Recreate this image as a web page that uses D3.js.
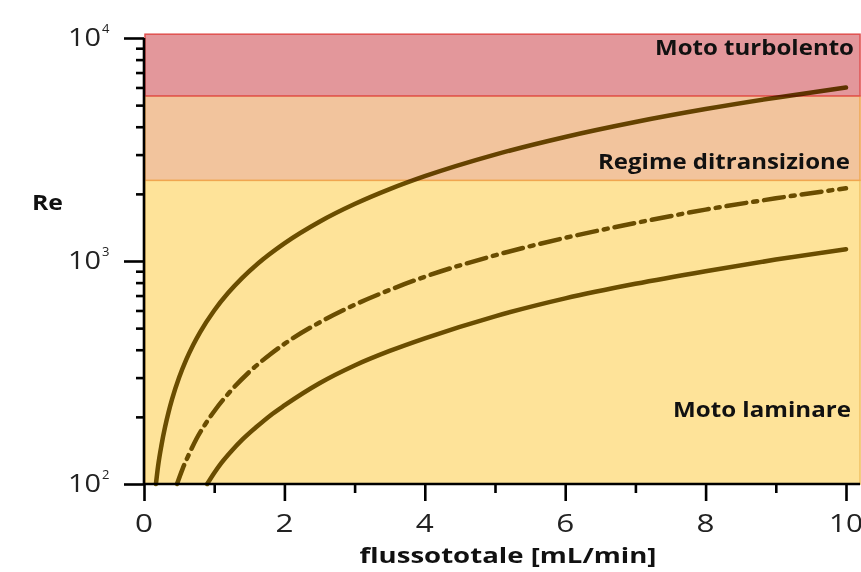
<!DOCTYPE html>
<html>
<head>
<meta charset="utf-8">
<script src="https://cdn.jsdelivr.net/npm/d3@7"></script>
<style>
  html, body { margin: 0; padding: 0; background: #fff; }
  svg { display: block; }
</style>
</head>
<body>
<svg id="chart" width="861" height="572"></svg>
<script>
// ---- data ----
const xTicksMajor = [0, 2, 4, 6, 8, 10];
const xTicksMinor = [1, 3, 5, 7, 9];
const yTicksMajor = [100, 1000, 10000];
const yTickExponents = ["2", "3", "4"];
const yTicksMinor = [200, 300, 400, 500, 600, 700, 800, 900, 2000, 3000, 4000, 5000, 6000, 7000, 8000, 9000];

const bandNames = ["Moto laminare", "Regime ditransizione", "Moto turbolento"];
const bandLow = [100, 2300, 5500];
const bandHigh = [2300, 5500, 10400];

// curve 1 (solid, upper)
const flowA = [0.17, 0.2, 0.25, 0.3, 0.35, 0.4, 0.5, 0.6, 0.7, 0.8, 1, 1.2, 1.4, 1.7, 2, 2.5, 3, 3.5, 4, 5, 6, 7, 8, 9, 10];
const reA = [100, 120, 150, 180, 210, 240, 300, 360, 420, 480, 600, 720, 840, 1020, 1200, 1500, 1800, 2100, 2400, 3000, 3600, 4200, 4800, 5400, 6000];
// curve 2 (dash-dot, middle)
const flowB = [0.47, 0.55, 0.65, 0.75, 0.9, 1, 1.2, 1.5, 1.8, 2, 2.5, 3, 3.5, 4, 5, 6, 7, 8, 9, 10];
const reB = [100, 117, 138, 160, 191, 212, 254, 318, 382, 425, 530, 636, 742, 850, 1060, 1270, 1480, 1700, 1910, 2120];
// curve 3 (solid, lower)
const flowC = [0.9, 1, 1.1, 1.25, 1.4, 1.6, 1.8, 2, 2.5, 3, 3.5, 4, 5, 6, 7, 8, 9, 10];
const reC = [100, 112, 124, 141, 158, 180, 203, 225, 283, 340, 395, 450, 565, 680, 790, 900, 1015, 1130];

const xTitle = "flussototale [mL/min]";
const yTitle = "Re";

// ---- layout ----
const svg = d3.select("#chart");
const x = d3.scaleLinear().domain([0, 10]).range([144, 846]);
const y = d3.scaleLog().domain([100, 10000]).range([484, 38]);
const xBandEnd = 10.2;

const bandFill = ["#fee399", "#f2c49d", "#e3979b"];
const bandStroke = ["#f0c060", "#f0a650", "#e0504f"];
const font = "'Open Sans', 'DejaVu Sans', sans-serif";

// bands
const bands = svg.append("g");
[0, 1, 2].forEach(i => {
  bands.append("rect")
    .attr("x", x(0) + 1)
    .attr("y", y(bandHigh[i]))
    .attr("width", x(xBandEnd) - x(0) - 1)
    .attr("height", y(bandLow[i]) - y(bandHigh[i]))
    .attr("fill", bandFill[i])
    .attr("stroke", bandStroke[i])
    .attr("stroke-width", 1.5);
});

// band labels
const labelSpec = [
  { i: 0, x: 851, y: 417, len: 178 },
  { i: 1, x: 850, y: 169, len: 252 },
  { i: 2, x: 854, y: 55, len: 199 }
];
labelSpec.forEach(s => {
  svg.append("text")
    .attr("x", s.x).attr("y", s.y)
    .attr("text-anchor", "end")
    .attr("font-family", font)
    .attr("font-weight", "bold")
    .attr("font-size", 21)
    .attr("textLength", s.len)
    .attr("lengthAdjust", "spacingAndGlyphs")
    .attr("fill", "#111")
    .text(bandNames[s.i]);
});

// curves
const line = d3.line().x(d => x(d[0])).y(d => y(d[1])).curve(d3.curveMonotoneX);
const curves = [
  { fx: flowA, ry: reA, dash: null },
  { fx: flowB, ry: reB, dash: "20,7,4,7" },
  { fx: flowC, ry: reC, dash: null }
];
curves.forEach(c => {
  svg.append("path")
    .datum(d3.zip(c.fx, c.ry))
    .attr("d", line)
    .attr("fill", "none")
    .attr("stroke", "#6a5600")
    .attr("stroke-width", 4.5)
    .attr("stroke-linecap", "round")
    .attr("stroke-dasharray", c.dash)
    .style("mix-blend-mode", "multiply");
});

// axes
const axisColor = "#000";
const yMajor = svg.append("g").attr("transform", `translate(${x(0)},0)`)
  .call(d3.axisLeft(y).tickValues(yTicksMajor).tickSize(20).tickFormat(""));
const yMinor = svg.append("g").attr("transform", `translate(${x(0)},0)`)
  .call(d3.axisLeft(y).tickValues(yTicksMinor).tickSize(8).tickFormat("").tickSizeOuter(0));
const xMajor = svg.append("g").attr("transform", `translate(0,${y(100)})`)
  .call(d3.axisBottom(x).tickValues(xTicksMajor).tickSize(17).tickSizeOuter(0).tickFormat(""));
const xMinor = svg.append("g").attr("transform", `translate(0,${y(100)})`)
  .call(d3.axisBottom(x).tickValues(xTicksMinor).tickSize(9).tickSizeOuter(0).tickFormat(""));
[yMajor, yMinor, xMajor, xMinor].forEach(g => {
  g.selectAll(".domain").remove();
  g.selectAll("line").attr("stroke", axisColor).attr("stroke-width", 2.6);
});
// axis lines
svg.append("line").attr("x1", x(0)).attr("x2", x(0)).attr("y1", y(10000)).attr("y2", y(100))
  .attr("stroke", axisColor).attr("stroke-width", 2.6);
svg.append("line").attr("x1", x(0)).attr("x2", x(xBandEnd)).attr("y1", y(100)).attr("y2", y(100))
  .attr("stroke", axisColor).attr("stroke-width", 2.6);

// y tick labels 10^n
yTicksMajor.forEach((v, i) => {
  const t = svg.append("text")
    .attr("x", 68).attr("y", y(v) + 8)
    .attr("font-family", font)
    .attr("font-size", 25)
    .attr("fill", "#222");
  t.append("tspan").attr("textLength", 33).attr("lengthAdjust", "spacingAndGlyphs").text("10");
  t.append("tspan").attr("x", 102).attr("dy", -13).attr("font-size", 13).text(yTickExponents[i]);
});

// x tick labels
xTicksMajor.forEach(v => {
  const s = String(v);
  svg.append("text")
    .attr("x", x(v)).attr("y", 532)
    .attr("text-anchor", "middle")
    .attr("font-family", font)
    .attr("font-size", 25)
    .attr("textLength", s.length === 1 ? 18 : 34)
    .attr("lengthAdjust", "spacingAndGlyphs")
    .attr("fill", "#222")
    .text(s);
});

// titles
svg.append("text")
  .attr("x", 508).attr("y", 563)
  .attr("text-anchor", "middle")
  .attr("font-family", font).attr("font-weight", "bold").attr("font-size", 22)
  .attr("textLength", 297).attr("lengthAdjust", "spacingAndGlyphs")
  .attr("fill", "#111")
  .text(xTitle);
svg.append("text")
  .attr("x", 32).attr("y", 210)
  .attr("font-family", font).attr("font-weight", "bold").attr("font-size", 21)
  .attr("textLength", 31).attr("lengthAdjust", "spacingAndGlyphs")
  .attr("fill", "#111")
  .text(yTitle);
</script>
</body>
</html>
